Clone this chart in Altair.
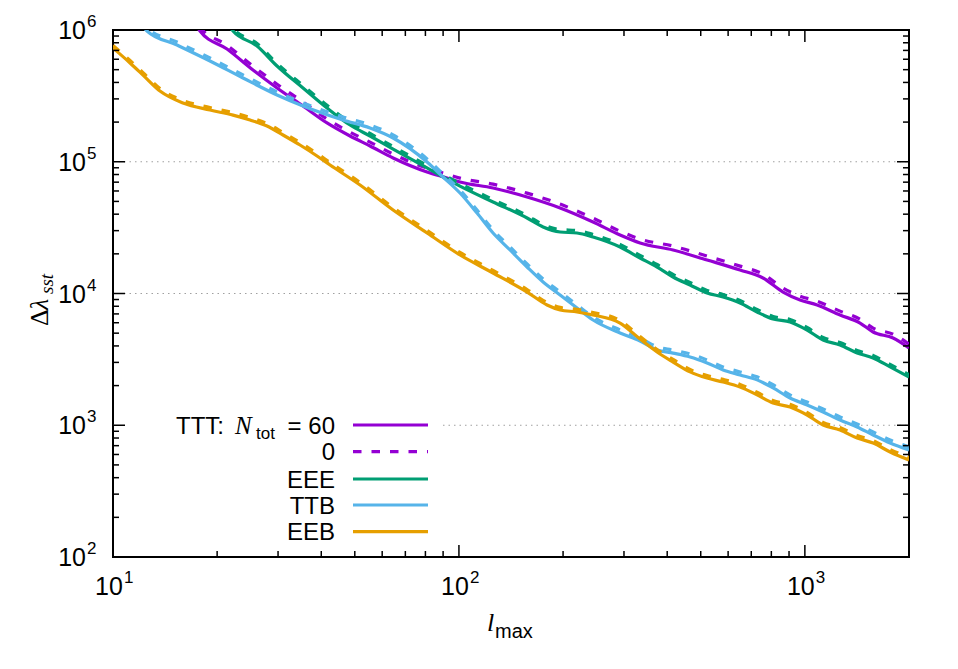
import altair as alt
import pandas as pd

# ---------------- values ----------------
# TTT
ttt_l = [16.7, 17.84, 21.36, 25.39, 29.80, 35.42, 41.56, 48.44, 55.34, 64.52, 80.88, 92.40,
         100.7, 125.5, 157.4, 196.1, 244.2, 292.3, 333.9, 415.9, 521.6, 649.7, 757.1, 864.9,
         968.5, 1085, 1264, 1444, 1575, 1799, 2000]
ttt_n60 = [1.30e6, 9.83e5, 7.17e5, 4.97e5, 3.63e5, 2.65e5, 1.97e5, 1.568e5, 1.317e5, 1.068e5,
           8.36e4, 7.53e4, 7.02e4, 6.32e4, 5.40e4, 4.46e4, 3.49e4, 2.78e4, 2.42e4, 2.14e4,
           1.796e4, 1.508e4, 1.311e4, 1.026e4, 8930, 8180, 6870, 5970, 5100, 4590, 3860]
ttt_n0 = [1.391e6, 1.052e6, 7.67e5, 5.32e5, 3.88e5, 2.84e5, 2.11e5, 1.678e5, 1.409e5, 1.143e5,
          8.95e4, 8.06e4, 7.51e4, 6.76e4, 5.78e4, 4.77e4, 3.73e4, 2.97e4, 2.59e4, 2.29e4,
          1.922e4, 1.614e4, 1.403e4, 1.098e4, 9560, 8750, 7350, 6390, 5460, 4910, 4130]

# EEE
eee_l = [21.08, 22.23, 26.08, 29.80, 35.42, 41.56, 48.44, 55.34, 64.52, 80.88, 89.95, 100.7,
         125.5, 157.4, 175.1, 196.1, 219.5, 244.2, 292.3, 333.9, 373.9, 415.9, 465.7, 521.6,
         580.2, 649.7, 727.4, 809.2, 906.1, 1015, 1129, 1264, 1416, 1575, 1764, 2000]
eee_n60 = [1.19e6, 9.83e5, 7.56e5, 5.33e5, 3.63e5, 2.56e5, 1.90e5, 1.568e5, 1.249e5, 8.97e4,
           7.66e4, 6.54e4, 4.95e4, 3.74e4, 3.20e4, 2.93e4, 2.88e4, 2.685e4, 2.254e4, 1.86e4,
           1.589e4, 1.334e4, 1.16e4, 1.009e4, 9410, 8470, 7240, 6410, 6080, 5280, 4440, 4070,
           3540, 3240, 2770, 2320]
eee_n0 = [1.244e6, 1.027e6, 7.90e5, 5.57e5, 3.79e5, 2.68e5, 1.986e5, 1.639e5, 1.305e5, 9.37e4,
          8.00e4, 6.83e4, 5.17e4, 3.91e4, 3.34e4, 3.06e4, 3.01e4, 2.806e4, 2.355e4, 1.944e4,
          1.661e4, 1.394e4, 1.212e4, 1.054e4, 9830, 8850, 7570, 6700, 6350, 5520, 4640, 4250,
          3700, 3390, 2890, 2420]

# TTB
ttb_l = [11.97, 12.54, 15.31, 19.07, 23.76, 29.80, 35.42, 46.23, 55.34, 64.52, 80.88, 89.95,
         100.7, 112.8, 125.5, 140.5, 157.4, 175.1, 196.1, 219.5, 244.2, 292.3, 333.9, 373.9,
         415.9, 465.7, 521.6, 580.2, 649.7, 727.4, 809.2, 906.1, 1015, 1129, 1264, 1416, 1575,
         1764, 2000]
ttb_n60 = [1.15e6, 9.83e5, 7.69e5, 5.82e5, 4.32e5, 3.21e5, 2.65e5, 2.075e5, 1.804e5, 1.515e5,
           9.96e4, 7.66e4, 5.79e4, 4.08e4, 2.88e4, 2.14e4, 1.589e4, 1.223e4, 9740, 7760,
           6290, 5010, 4360, 3730, 3530, 3300, 2970, 2630, 2410, 2210,
           1920, 1610, 1425, 1260, 1096, 970, 844, 733, 649]
ttb_n0 = [1.213e6, 1.037e6, 8.11e5, 6.14e5, 4.56e5, 3.39e5, 2.80e5, 2.189e5, 1.903e5, 1.598e5,
          1.051e5, 8.08e4, 6.11e4, 4.30e4, 3.04e4, 2.26e4, 1.676e4, 1.290e4, 10280, 8190,
          6640, 5290, 4600, 3940, 3720, 3480, 3130, 2770, 2540, 2330,
          2030, 1700, 1500, 1330, 1156, 1023, 890, 773, 685]

# EEB
eeb_l = [10, 11.20, 12.21, 13.67, 15.94, 19.07, 22.23, 24.90, 27.87, 31.01, 34.72, 38.89,
         42.41, 51.78, 64.52, 80.88, 100.7, 125.5, 157.4, 179.8, 196.1, 219.5, 244.2, 292.3,
         333.9, 373.9, 415.9, 465.7, 521.6, 580.2, 649.7, 727.4, 809.2, 906.1, 1015, 1129,
         1264, 1416, 1575, 1764, 2000]
eeb_n60 = [7.30e5, 5.62e5, 4.55e5, 3.44e5, 2.79e5, 2.47e5, 2.26e5, 2.075e5, 1.868e5, 1.596e5,
           1.34e5, 1.106e5, 9.45e4, 6.66e4, 4.30e4, 2.88e4, 1.96e4, 1.431e4, 1.026e4, 8180,
           7500, 7240, 6870, 5970, 4510, 3600, 3020, 2540, 2280, 2130,
           1950, 1700, 1475, 1376, 1196, 1004, 920, 800, 733, 627, 545]
eeb_n0 = [7.63e5, 5.87e5, 4.75e5, 3.59e5, 2.92e5, 2.58e5, 2.36e5, 2.168e5, 1.952e5, 1.668e5,
          1.400e5, 1.156e5, 9.88e4, 6.96e4, 4.49e4, 3.01e4, 2.05e4, 1.495e4, 1.072e4, 8550,
          7840, 7570, 7180, 6240, 4710, 3760, 3160, 2650, 2380, 2230,
          2040, 1780, 1540, 1440, 1250, 1049, 961, 836, 766, 655, 570]

# axis ticks
x_major = [10, 100, 1000]
x_exp = ["1", "2", "3"]
x_minor = [20, 30, 40, 50, 60, 70, 80, 90, 200, 300, 400, 500, 600, 700, 800, 900, 2000]
y_major = [1e2, 1e3, 1e4, 1e5, 1e6]
y_exp = ["2", "3", "4", "5", "6"]
y_minor = [200, 300, 400, 500, 600, 700, 800, 900,
           2000, 3000, 4000, 5000, 6000, 7000, 8000, 9000,
           20000, 30000, 40000, 50000, 60000, 70000, 80000, 90000,
           200000, 300000, 400000, 500000, 600000, 700000, 800000, 900000]
grid_y = [1e3, 1e4, 1e5]

legend_rest = ["0", "EEE", "TTB", "EEB"]

C_TTT = "#9400D3"
C_EEE = "#009E73"
C_TTB = "#56B4E9"
C_EEB = "#E69F00"

# ---------------- chart ----------------
W, H = 796, 527
xs = alt.Scale(type="log", domain=[10, 2000], nice=False)
ys = alt.Scale(type="log", domain=[100, 1e6], nice=False)
SANS = "Liberation Sans"
SERIF = "Liberation Serif"
DASH = [8.5, 10]
LW = 3.2
one = pd.DataFrame({"a": [0]})

layers = []

# grid
layers.append(
    alt.Chart(pd.DataFrame({"t": grid_y})).mark_rule(color="#a0a0a0", strokeWidth=1, strokeDash=[1.5, 4])
    .encode(y=alt.Y("t:Q", scale=ys, axis=None), x=alt.value(0), x2=alt.value(W))
)

# legend background box
layers.append(
    alt.Chart(one).mark_rect(fill="white")
    .encode(x=alt.value(2), x2=alt.value(330), y=alt.value(372), y2=alt.value(520))
)


def curve(l, v, color, dashed):
    kw = dict(color=color, strokeWidth=LW, clip=True, interpolate="monotone")
    if dashed:
        kw["strokeDash"] = DASH
    return alt.Chart(pd.DataFrame({"l": l, "v": v})).mark_line(**kw).encode(
        x=alt.X("l:Q", scale=xs, axis=None), y=alt.Y("v:Q", scale=ys, axis=None)
    )


for l, a, b, c in [(ttt_l, ttt_n60, ttt_n0, C_TTT), (eee_l, eee_n60, eee_n0, C_EEE),
                   (ttb_l, ttb_n60, ttb_n0, C_TTB), (eeb_l, eeb_n60, eeb_n0, C_EEB)]:
    layers.append(curve(l, a, c, False))
    layers.append(curve(l, b, c, True))


# ticks on all four sides (inward)
def xt(vals, ln):
    d = pd.DataFrame({"t": vals})
    r = dict(color="black", strokeWidth=1.5)
    return [
        alt.Chart(d).mark_rule(**r).encode(x=alt.X("t:Q", scale=xs, axis=None), y=alt.value(H), y2=alt.value(H - ln)),
        alt.Chart(d).mark_rule(**r).encode(x=alt.X("t:Q", scale=xs, axis=None), y=alt.value(0), y2=alt.value(ln)),
    ]


def yt(vals, ln):
    d = pd.DataFrame({"t": vals})
    r = dict(color="black", strokeWidth=1.5)
    return [
        alt.Chart(d).mark_rule(**r).encode(y=alt.Y("t:Q", scale=ys, axis=None), x=alt.value(0), x2=alt.value(ln)),
        alt.Chart(d).mark_rule(**r).encode(y=alt.Y("t:Q", scale=ys, axis=None), x=alt.value(W), x2=alt.value(W - ln)),
    ]


layers += xt(x_major, 12) + xt(x_minor, 6) + yt(y_major, 12) + yt(y_minor, 6)

# tick labels
xl = pd.DataFrame({"t": x_major, "e": x_exp})
layers.append(alt.Chart(xl).mark_text(text="10", font=SANS, fontSize=25, align="center", baseline="alphabetic", dx=-4)
              .encode(x=alt.X("t:Q", scale=xs, axis=None), y=alt.value(H + 38)))
layers.append(alt.Chart(xl).mark_text(font=SANS, fontSize=17, align="left", baseline="alphabetic", dx=11)
              .encode(x=alt.X("t:Q", scale=xs, axis=None), y=alt.value(H + 26), text="e:N"))
yl = pd.DataFrame({"t": y_major, "e": y_exp})
layers.append(alt.Chart(yl).mark_text(text="10", font=SANS, fontSize=25, align="right", baseline="alphabetic", dy=9)
              .encode(y=alt.Y("t:Q", scale=ys, axis=None), x=alt.value(-27)))
layers.append(alt.Chart(yl).mark_text(font=SANS, fontSize=17, align="left", baseline="alphabetic", dy=-3)
              .encode(y=alt.Y("t:Q", scale=ys, axis=None), x=alt.value(-26), text="e:N"))

# axis titles
layers.append(alt.Chart(one).mark_text(text="l", font=SERIF, fontStyle="italic", fontSize=26, align="left", baseline="alphabetic")
              .encode(x=alt.value(374), y=alt.value(601)))
layers.append(alt.Chart(one).mark_text(text="max", font=SANS, fontSize=20, align="left", baseline="alphabetic")
              .encode(x=alt.value(382), y=alt.value(608)))
layers.append(alt.Chart(one).mark_text(text="Δ", font=SERIF, fontSize=26, align="left", baseline="alphabetic", angle=270)
              .encode(x=alt.value(-65), y=alt.value(296)))
layers.append(alt.Chart(one).mark_text(text="λ", font=SERIF, fontStyle="italic", fontSize=26, align="left", baseline="alphabetic", angle=270)
              .encode(x=alt.value(-65), y=alt.value(280)))
layers.append(alt.Chart(one).mark_text(text="sst", font=SERIF, fontStyle="italic", fontSize=19, align="left", baseline="alphabetic", angle=270)
              .encode(x=alt.value(-60), y=alt.value(264)))

# legend
rows = [395, 421.7, 449, 475, 501.7]
LF = 24
layers.append(alt.Chart(one).mark_text(text="TTT:", font=SANS, fontSize=LF, align="left", baseline="alphabetic")
              .encode(x=alt.value(63), y=alt.value(rows[0] + 8.5)))
layers.append(alt.Chart(one).mark_text(text="N", font=SERIF, fontStyle="italic", fontSize=25, align="left", baseline="alphabetic")
              .encode(x=alt.value(122), y=alt.value(rows[0] + 8.5)))
layers.append(alt.Chart(one).mark_text(text="tot", font=SANS, fontSize=17, align="left", baseline="alphabetic")
              .encode(x=alt.value(143), y=alt.value(rows[0] + 14)))
layers.append(alt.Chart(one).mark_text(text="= 60", font=SANS, fontSize=LF, align="right", baseline="alphabetic")
              .encode(x=alt.value(222), y=alt.value(rows[0] + 8.5)))
for i, lab in enumerate(legend_rest):
    layers.append(alt.Chart(one).mark_text(text=lab, font=SANS, fontSize=LF, align="right", baseline="alphabetic")
                  .encode(x=alt.value(222), y=alt.value(rows[i + 1] + 8.5)))
leg_lines = [(C_TTT, False), (C_TTT, True), (C_EEE, False), (C_TTB, False), (C_EEB, False)]
for (c, d), ry in zip(leg_lines, rows):
    kw = dict(color=c, strokeWidth=LW)
    if d:
        kw["strokeDash"] = DASH
    layers.append(alt.Chart(one).mark_rule(**kw)
                  .encode(x=alt.value(240), x2=alt.value(315), y=alt.value(ry)))

chart = alt.layer(*layers).properties(
    width=W, height=H,
    autosize=alt.AutoSizeParams(type="none"),
    padding={"left": 105, "top": 22, "right": 41, "bottom": 100},
).configure_view(stroke="black", strokeWidth=2)

chart.save("out.html", embed_options={"renderer": "svg", "actions": False})
